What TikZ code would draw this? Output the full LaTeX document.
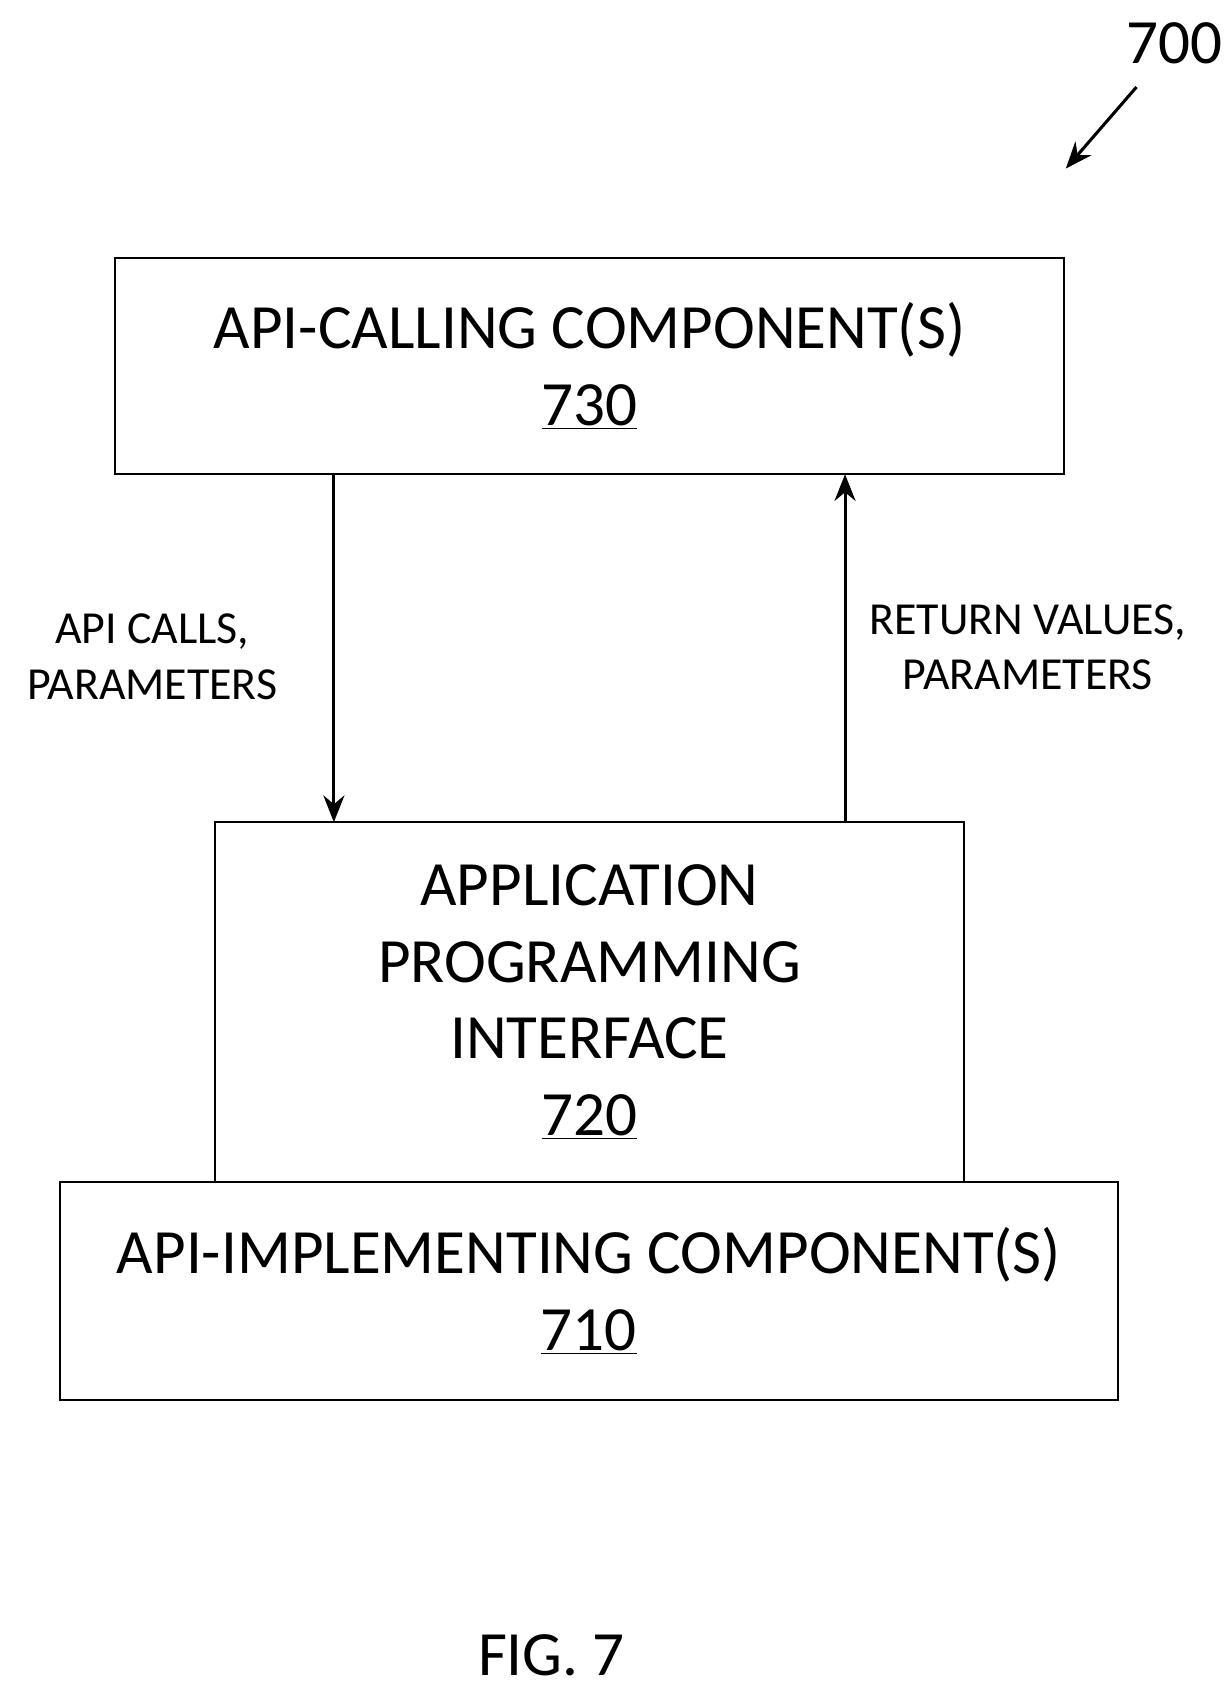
\documentclass[tikz,border=0pt]{standalone}
\usepackage{fontspec}
\setmainfont{Carlito}
\usetikzlibrary{positioning}
\usetikzlibrary{arrows.meta}
\tikzset{>=Stealth}
\tikzset{
  box/.style={draw, line width=1pt, inner sep=0pt, align=center, font=\fontsize{33}{40}\selectfont},
  lbl/.style={align=center, font=\fontsize{24}{29}\selectfont},
  flow/.style={->, line width=1.6pt, >={Stealth[length=14pt,width=11pt]}}
}
\begin{document}
\begin{tikzpicture}[x=0.02cm, y=-0.02cm]

        % Page
        \useasboundingbox (0,0) rectangle (1130,1553);

        % Boxes
        \node[box, minimum width=872*0.02cm, minimum height=199*0.02cm] (calling) at (542,336.5)
            {API-CALLING COMPONENT(S)\\\underline{730}};
        \node[box, minimum width=688*0.02cm, minimum height=331*0.02cm] (api) at (542,921.5)
            {APPLICATION\\PROGRAMMING\\INTERFACE\\\underline{720}};
        \node[box, minimum width=973*0.02cm, minimum height=200*0.02cm] (impl) at (541.5,1187)
            {API-IMPLEMENTING COMPONENT(S)\\\underline{710}};

        % Calls and returns
        \coordinate (callsTop) at (307,436);
        \coordinate (callsEnd) at (307,756);
        \coordinate (retStart) at (777,756);
        \coordinate (retEnd) at (777,436);
        \draw[flow] (callsTop) -- (callsEnd);
        \draw[flow] (retStart) -- (retEnd);
        \node[lbl] (callsLbl) at (140,604) {API CALLS,\\PARAMETERS};
        \node[lbl] (retLbl) at (945,595) {RETURN VALUES,\\PARAMETERS};

        % Reference number
        \node[font=\fontsize{33}{40}\selectfont] (ref) at (1080,40) {700};
        \coordinate (refFrom) at (1045,80);
        \coordinate (refTo) at (980,155);
        \draw[flow] (refFrom) -- (refTo);

        % Figure label
        \node[font=\fontsize{33}{40}\selectfont] (fig) at (507,1522) {FIG. 7};

\end{tikzpicture}
\end{document}
